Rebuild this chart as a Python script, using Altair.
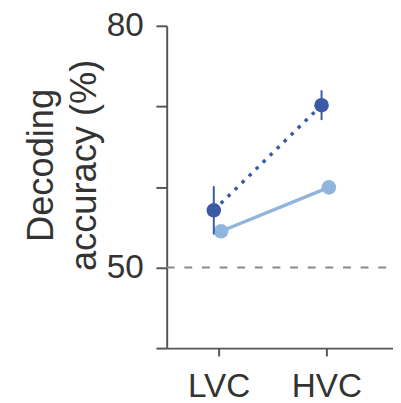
import altair as alt
import pandas as pd

regions = ["LVC", "HVC"]
series = ["dark", "light"]
dark_mean = [57.1, 70.15]
dark_lo = [54.1, 68.3]
dark_hi = [60.1, 72.0]
light_mean = [54.5, 59.95]
chance = [50]

rows = []
for i, r in enumerate(regions):
    rows.append({"region": r, "series": "dark", "mean": dark_mean[i], "lo": dark_lo[i], "hi": dark_hi[i]})
    rows.append({"region": r, "series": "light", "mean": light_mean[i], "lo": light_mean[i], "hi": light_mean[i]})
df = pd.DataFrame(rows)
dark_df = df[df.series == "dark"]
light_df = df[df.series == "light"]

DARK = "#3a5aa6"
LIGHT = "#8fb5dd"
FONT = "Liberation Sans"
W, H = 231, 329

pos_expr = ("indexof(['LVC','HVC'], datum.region) + "
            "(datum.series == 'dark' ? -0.045 : 0.023)")
xscale = alt.Scale(domain=[-0.482, -0.482 + W / 110], nice=False, zero=False)
xaxis = alt.Axis(values=[0, 1], labelExpr="datum.value == 0 ? 'LVC' : 'HVC'",
                 title=None, labelAngle=0, labelFontSize=34, labelFont=FONT,
                 labelColor="#333333", labelPadding=14, tickSize=8, tickWidth=2,
                 tickColor="#555555", domainColor="#555555", domainWidth=2,
                 grid=False, labelFlush=False)
xenc = alt.X("pos:Q", scale=xscale, axis=xaxis)
yscale = alt.Scale(domain=[40, 80], nice=False, zero=False)
yaxis = alt.Axis(values=[40, 50, 60, 70, 80],
                 labelExpr="datum.value == 50 || datum.value == 80 ? datum.label : ''",
                 title=["Decoding", "accuracy (%)"], titleFontSize=37, titleFont=FONT,
                 titleFontWeight="normal", titleColor="#333333", titleX=-116.5, titleY=142,
                 titleBaseline="alphabetic", titleAlign="center", titleLineHeight=43.5,
                 labelFontSize=34, labelFont=FONT, labelColor="#333333", labelPadding=13,
                 tickSize=11, tickWidth=2, tickColor="#555555", domainColor="#555555",
                 domainWidth=2, grid=False, labelFlush=False)
yenc = alt.Y("mean:Q", scale=yscale, axis=yaxis)

def base(d):
    return alt.Chart(d).transform_calculate(pos=pos_expr)

chance_rule = alt.Chart(pd.DataFrame({"v": chance})).mark_rule(
    color="#888888", strokeWidth=2, strokeDash=[8, 10]
).encode(y=alt.Y("v:Q", scale=yscale), x=alt.value(0), x2=alt.value(W))

light_line = base(light_df).mark_line(color=LIGHT, strokeWidth=3.5).encode(x=xenc, y=yenc)
light_pts = base(light_df).mark_point(filled=True, color=LIGHT, size=220, opacity=1).encode(x=xenc, y=yenc)
dark_line = base(dark_df).mark_line(color=DARK, strokeWidth=3.5, strokeDash=[3.5, 6.5]).encode(x=xenc, y=yenc)
dark_err = base(dark_df).mark_rule(color=DARK, strokeWidth=2).encode(
    x=xenc, y=alt.Y("lo:Q", scale=yscale), y2="hi:Q")
dark_pts = base(dark_df).mark_point(filled=True, color=DARK, size=220, opacity=1).encode(x=xenc, y=yenc)

chart = alt.layer(chance_rule, light_line, light_pts, dark_line, dark_err, dark_pts).properties(
    width=W, height=H,
    autosize=alt.AutoSizeParams(type="none"),
    padding={"left": 162, "top": 14, "right": 0, "bottom": 60},
).configure_view(stroke=None)

chart.save("out.html", embed_options={"renderer": "svg", "actions": False})
